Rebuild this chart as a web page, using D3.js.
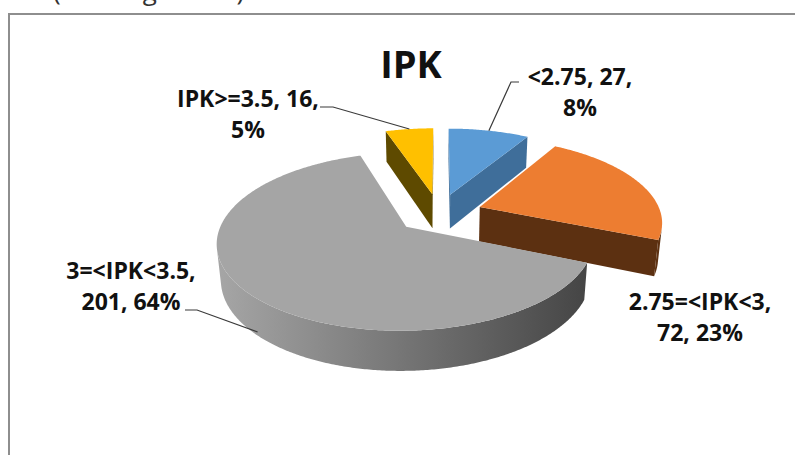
<!DOCTYPE html>
<html lang="en">
<head>
<meta charset="UTF-8" />
<title>IPK</title>
<script src="https://cdnjs.cloudflare.com/ajax/libs/d3/7.8.5/d3.min.js"></script>
<style>
  html, body { margin: 0; background: #fff; }
  svg { display: block; }
  text { font-family: 'Open Sans', sans-serif; }
</style>
</head>
<body>
<div id="chart"></div>
<script>
// data
const categories = ["<2.75", "2.75=<IPK<3", "3=<IPK<3.5", "IPK>=3.5"];
const counts = [27, 72, 201, 16];
const percents = ["8%", "23%", "64%", "5%"];

// styling / layout
const topColors = ["#5b9bd5", "#ed7d31", "#a5a5a5", "#ffc000"];
const sideColors = [["#3f6e9a", "#3f6e9a"], ["#603313", "#5c3011"], ["#a6a6a6", "#454545"], ["#665000", "#5e4a00"]];
const wrapAfterCount = [true, false, false, true];
const labelPos = [[580, 85], [700, 310], [131, 279], [248, 107]];
const leaderElbow = [[[519, 82], [511, 82]], null, [[185, 310], [197, 310]], [[320, 107], [333, 107]]];
const leaderAt = [{ a: 0, y: 0 }, null, { a: -0.05, y: -0.9 }, { a: 0, y: 0 }];

const W = 795, H = 455;
const cx = 439, cy = 213, k = 181, D = 5.5;
const elev = 27 * Math.PI / 180, thick = 0.22, explode = 0.24;

const svg = d3.select("#chart").append("svg")
  .attr("width", W).attr("height", H);
const defs = svg.append("defs");

// frame of the original screenshot + cropped caption above it
svg.append("text")
  .attr("x", 53).attr("y", 0)
  .attr("font-size", 26).attr("fill", "#333")
  .text("(dalam gambar)");
svg.append("path")
  .attr("d", "M9,455V14H795")
  .attr("fill", "none").attr("stroke", "#8e8e8e").attr("stroke-width", 2);

function project(x, y, z) {
  const Y = y * Math.cos(elev) + z * Math.sin(elev);
  const Z = D + z * Math.cos(elev) - y * Math.sin(elev);
  const s = D / Z;
  return [cx + k * x * s, cy - k * Y * s];
}
const cam = [0, D * Math.sin(elev), -D * Math.cos(elev)];
const facing = (p, n) => (p[0] - cam[0]) * n[0] + (p[1] - cam[1]) * n[1] + (p[2] - cam[2]) * n[2] < 0;

const line = d3.line();
const arcs = d3.pie().sort(null).value(d => d)(counts);

const slices = arcs.map((d, i) => {
  const m = (d.startAngle + d.endAngle) / 2;
  return { ...d, i, m, ox: explode * Math.sin(m), oz: explode * Math.cos(m) };
});

function rim(s, a, y) {
  return project(s.ox + Math.sin(a), y, s.oz + Math.cos(a));
}
function apex(s, y) {
  return project(s.ox, y, s.oz);
}
function angles(a1, a2) {
  const n = Math.max(2, Math.ceil((a2 - a1) / 0.01));
  return d3.range(n + 1).map(j => a1 + (a2 - a1) * j / n);
}

const g = svg.append("g");

slices.slice().sort((a, b) => b.oz - a.oz).forEach(s => {
  const sg = g.append("g");
  const [c1, c2] = sideColors[s.i];
  const yb = -thick, ym = -thick / 2;

  // radial cut faces
  const n1 = [-Math.cos(s.startAngle), 0, Math.sin(s.startAngle)];
  const n2 = [Math.cos(s.endAngle), 0, -Math.sin(s.endAngle)];
  [[s.startAngle, n1], [s.endAngle, n2]].forEach(([a, n]) => {
    if (s.endAngle - s.startAngle > Math.PI) return;
    if (!facing([s.ox, ym, s.oz], n)) return;
    sg.append("path")
      .attr("d", line([apex(s, 0), rim(s, a, 0), rim(s, a, yb), apex(s, yb)]) + "Z")
      .attr("fill", c2);
  });

  // outer curved side, only the parts turned to the viewer
  const runs = [];
  let cur = null;
  angles(s.startAngle, s.endAngle).forEach(a => {
    const vis = facing([s.ox + Math.sin(a), ym, s.oz + Math.cos(a)], [Math.sin(a), 0, Math.cos(a)]);
    if (vis) { if (!cur) { cur = []; runs.push(cur); } cur.push(a); }
    else cur = null;
  });
  runs.forEach((run, r) => {
    const pts = run.map(a => rim(s, a, 0)).concat(run.slice().reverse().map(a => rim(s, a, yb)));
    const xs = d3.extent(pts, p => p[0]);
    const id = `side${s.i}_${r}`;
    const lg = defs.append("linearGradient").attr("id", id)
      .attr("gradientUnits", "userSpaceOnUse")
      .attr("x1", xs[0]).attr("x2", xs[1]).attr("y1", 0).attr("y2", 0);
    lg.append("stop").attr("offset", 0).attr("stop-color", c1);
    lg.append("stop").attr("offset", 1).attr("stop-color", c2);
    sg.append("path").attr("d", line(pts) + "Z").attr("fill", `url(#${id})`);
  });

  // top
  const top = [apex(s, 0)].concat(angles(s.startAngle, s.endAngle).map(a => rim(s, a, 0)));
  sg.append("path").attr("d", line(top) + "Z").attr("fill", topColors[s.i]);
});

// title
svg.append("text")
  .attr("x", 411).attr("y", 78)
  .attr("text-anchor", "middle")
  .attr("font-size", 38).attr("font-weight", 700).attr("fill", "#111")
  .text("IPK");

// leader lines
slices.forEach(s => {
  const el = leaderElbow[s.i];
  if (!el) return;
  const la = leaderAt[s.i];
  const end = rim(s, s.m + la.a, la.y * thick);
  svg.append("path")
    .attr("d", line([el[0], el[1], end]))
    .attr("fill", "none").attr("stroke", "#3a3a3a").attr("stroke-width", 1.2);
});

// data labels
slices.forEach(s => {
  const i = s.i;
  const lines = wrapAfterCount[i]
    ? [`${categories[i]}, ${counts[i]},`, percents[i]]
    : [`${categories[i]},`, `${counts[i]}, ${percents[i]}`];
  const t = svg.append("text")
    .attr("text-anchor", "middle")
    .attr("font-size", 23).attr("font-weight", 700).attr("fill", "#111");
  lines.forEach((l, j) => {
    t.append("tspan").attr("x", labelPos[i][0]).attr("y", labelPos[i][1] + j * 31).text(l);
  });
});
</script>
</body>
</html>
